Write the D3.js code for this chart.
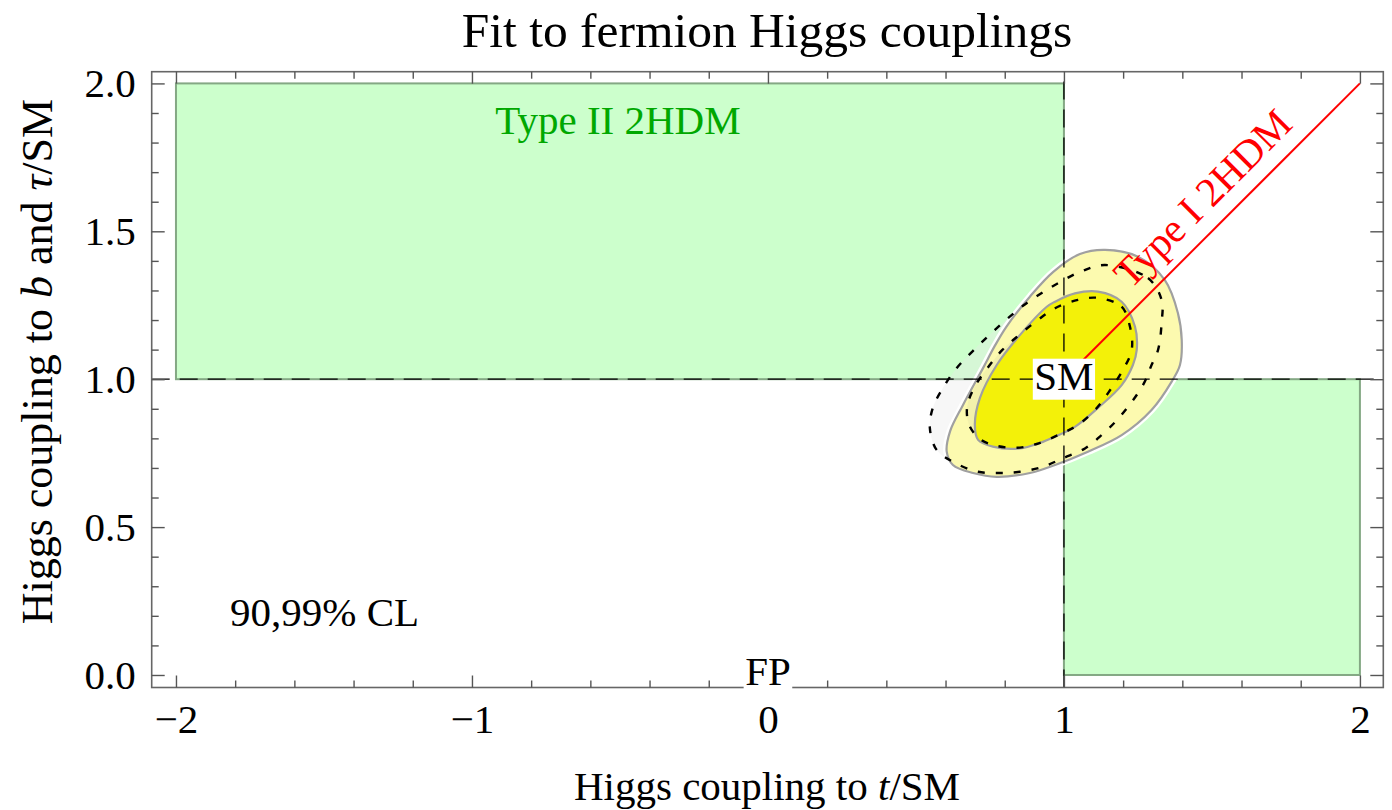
<!DOCTYPE html>
<html>
<head>
<meta charset="utf-8">
<script src="https://cdn.jsdelivr.net/npm/d3@7"></script>
<style>
  html, body { margin: 0; padding: 0; background: #fff; }
  svg text { font-family: "Liberation Serif", "Times New Roman", serif; }
</style>
</head>
<body>
<svg id="chart" width="1392" height="810"></svg>
<script>
// ---- data ----
const xDomain = [-2.082, 2.079];
const yDomain = [-0.0423, 2.0396];

const xMajorTicks = [-2, -1, 0, 1, 2];
const xTickLabels = ["\u22122", "\u22121", "0", "1", "2"];
const xMinorTicks = [-1.8, -1.6, -1.4, -1.2, -0.8, -0.6, -0.4, -0.2, 0.2, 0.4, 0.6, 0.8, 1.2, 1.4, 1.6, 1.8];
const yMajorTicks = [0, 0.5, 1, 1.5, 2];
const yTickLabels = ["0.0", "0.5", "1.0", "1.5", "2.0"];
const yMinorTicks = [0.1, 0.2, 0.3, 0.4, 0.6, 0.7, 0.8, 0.9, 1.1, 1.2, 1.3, 1.4, 1.6, 1.7, 1.8, 1.9];

// Type II 2HDM allowed regions: [x0, x1, y0, y1]
const typeIIRegions = [[-2, 1, 1, 2], [1, 2, 0, 1]];

// Type I 2HDM line (t and b/tau couplings equal)
const typeILine = [[1, 1], [2, 2]];

// reference lines through the SM point
const refX = 1;
const refY = 1;

// fit contours (99% and 90% CL), solid = current fit, dashed = alternative fit
const cl99Solid = [
  [1.139, 1.437], [1.250, 1.414], [1.341, 1.335], [1.385, 1.224], [1.398, 1.133],
  [1.392, 1.048], [1.364, 0.992], [1.296, 0.896], [1.195, 0.811], [1.081, 0.755],
  [0.970, 0.710], [0.885, 0.683], [0.773, 0.670], [0.693, 0.683], [0.625, 0.710],
  [0.604, 0.755], [0.615, 0.823], [0.659, 0.913], [0.728, 1.040], [0.765, 1.110],
  [0.806, 1.178], [0.885, 1.279], [0.964, 1.363], [1.054, 1.423]
];
const cl90Solid = [
  [1.115, 1.296], [1.195, 1.262], [1.240, 1.178], [1.246, 1.099], [1.233, 1.048],
  [1.195, 0.980], [1.115, 0.903], [1.037, 0.839], [0.970, 0.806], [0.920, 0.785],
  [0.851, 0.766], [0.760, 0.772], [0.710, 0.795], [0.699, 0.845], [0.716, 0.936],
  [0.773, 1.048], [0.851, 1.149], [0.942, 1.245], [0.970, 1.262], [1.037, 1.290]
];
const cl99Dashed = [
  [1.139, 1.386], [1.284, 1.342], [1.330, 1.268], [1.330, 1.190], [1.318, 1.099],
  [1.296, 1.048], [1.267, 0.980], [1.189, 0.873], [1.127, 0.811], [1.071, 0.766],
  [0.997, 0.733], [0.929, 0.704], [0.851, 0.687], [0.784, 0.683], [0.710, 0.687],
  [0.632, 0.717], [0.570, 0.761], [0.547, 0.835], [0.557, 0.903], [0.591, 0.970],
  [0.638, 1.038], [0.693, 1.096], [0.749, 1.150], [0.804, 1.200], [0.864, 1.250],
  [0.929, 1.294], [0.995, 1.333], [1.062, 1.366]
];
const cl90Dashed = [
  [1.115, 1.275], [1.195, 1.245], [1.223, 1.178], [1.229, 1.099], [1.199, 1.031],
  [1.149, 0.953], [1.105, 0.896], [1.047, 0.845], [0.980, 0.811], [0.908, 0.781],
  [0.840, 0.768], [0.767, 0.776], [0.716, 0.798], [0.680, 0.845], [0.673, 0.907],
  [0.699, 0.975], [0.745, 1.042], [0.792, 1.099], [0.848, 1.149], [0.908, 1.197],
  [0.970, 1.240], [1.047, 1.268]
];

// ---- layout ----
const svg = d3.select("#chart");
const plot = { left: 151.7, right: 1383.3, top: 71.7, bottom: 687.5 };

const x = d3.scaleLinear().domain(xDomain).range([plot.left, plot.right]);
const y = d3.scaleLinear().domain(yDomain).range([plot.bottom, plot.top]);

const fontSize = 41;

svg.append("defs").append("clipPath").attr("id", "plot-clip")
  .append("rect")
  .attr("x", plot.left).attr("y", plot.top)
  .attr("width", plot.right - plot.left).attr("height", plot.bottom - plot.top);

const g = svg.append("g").attr("clip-path", "url(#plot-clip)");

// Type II 2HDM regions
g.selectAll("rect.typeII").data(typeIIRegions).enter().append("rect")
  .attr("class", "typeII")
  .attr("x", d => x(d[0]))
  .attr("y", d => y(d[3]))
  .attr("width", d => x(d[1]) - x(d[0]))
  .attr("height", d => y(d[2]) - y(d[3]))
  .attr("fill", "#ccffcc")
  .attr("stroke", "#84a884")
  .attr("stroke-width", 2);

const contour = d3.line()
  .x(d => x(d[0])).y(d => y(d[1]))
  .curve(d3.curveCatmullRomClosed.alpha(0.5));

// faint fill of the alternative 99% region
g.append("path").attr("d", contour(cl99Dashed))
  .attr("fill", "#e8e8e8").attr("fill-opacity", 0.35).attr("stroke", "none");

// 99% CL region with white halo
g.append("path").attr("d", contour(cl99Solid))
  .attr("fill", "none").attr("stroke", "#ffffff").attr("stroke-width", 7);
g.append("path").attr("d", contour(cl99Solid))
  .attr("fill", "#fcfaaf").attr("stroke", "none");

// alternative 90% region, faint shading
g.append("path").attr("d", contour(cl90Dashed))
  .attr("fill", "#d8d8a0").attr("fill-opacity", 0.25).attr("stroke", "none");

// 90% CL region
g.append("path").attr("d", contour(cl90Solid))
  .attr("fill", "#f2f000").attr("fill-opacity", 0.95)
  .attr("stroke", "#a0a0a0").attr("stroke-width", 2.2);

g.append("path").attr("d", contour(cl99Solid))
  .attr("fill", "none").attr("stroke", "#a0a0a0").attr("stroke-width", 2.2);

// dashed contours
[cl99Dashed, cl90Dashed].forEach(c => {
  g.append("path").attr("d", contour(c))
    .attr("fill", "none").attr("stroke", "#000")
    .attr("stroke-width", 2.4).attr("stroke-dasharray", "7,11");
});

// reference lines through the SM point
g.append("line")
  .attr("x1", x(refX)).attr("x2", x(refX))
  .attr("y1", y(yDomain[0])).attr("y2", y(yDomain[1]))
  .attr("stroke", "#000").attr("stroke-width", 1.3).attr("stroke-dasharray", "18,10");
g.append("line")
  .attr("x1", x(xDomain[0])).attr("x2", x(xDomain[1]))
  .attr("y1", y(refY)).attr("y2", y(refY))
  .attr("stroke", "#000").attr("stroke-width", 1.3).attr("stroke-dasharray", "18,10");

// Type I 2HDM line
g.append("line")
  .attr("x1", x(typeILine[0][0])).attr("y1", y(typeILine[0][1]))
  .attr("x2", x(typeILine[1][0])).attr("y2", y(typeILine[1][1]))
  .attr("stroke", "#ff0000").attr("stroke-width", 2);

// ---- frame and ticks ----
svg.append("rect")
  .attr("x", plot.left).attr("y", plot.top)
  .attr("width", plot.right - plot.left).attr("height", plot.bottom - plot.top)
  .attr("fill", "none").attr("stroke", "#666").attr("stroke-width", 1.6);

function styleAxis(sel) {
  sel.select(".domain").remove();
  sel.selectAll(".tick line").attr("stroke", "#555").attr("stroke-width", 1.4);
  sel.selectAll(".tick text")
    .attr("fill", "#000")
    .style("font-size", fontSize + "px")
    .style("font-family", '"Liberation Serif", "Times New Roman", serif');
}

// bottom
svg.append("g").attr("transform", `translate(0,${plot.bottom})`)
  .call(d3.axisBottom(x).tickValues(xMinorTicks).tickSize(-7).tickFormat(""))
  .call(styleAxis);
svg.append("g").attr("transform", `translate(0,${plot.bottom})`)
  .call(d3.axisBottom(x).tickValues(xMajorTicks).tickSize(-12).tickPadding(16)
    .tickFormat((d, i) => xTickLabels[i]))
  .call(styleAxis);
// top
svg.append("g").attr("transform", `translate(0,${plot.top})`)
  .call(d3.axisTop(x).tickValues(xMinorTicks).tickSize(-7).tickFormat(""))
  .call(styleAxis);
svg.append("g").attr("transform", `translate(0,${plot.top})`)
  .call(d3.axisTop(x).tickValues(xMajorTicks).tickSize(-12).tickFormat(""))
  .call(styleAxis);
// left
svg.append("g").attr("transform", `translate(${plot.left},0)`)
  .call(d3.axisLeft(y).tickValues(yMinorTicks).tickSize(-7).tickFormat(""))
  .call(styleAxis);
svg.append("g").attr("transform", `translate(${plot.left},0)`)
  .call(d3.axisLeft(y).tickValues(yMajorTicks).tickSize(-13).tickPadding(16)
    .tickFormat((d, i) => yTickLabels[i]))
  .call(styleAxis);
// right
svg.append("g").attr("transform", `translate(${plot.right},0)`)
  .call(d3.axisRight(y).tickValues(yMinorTicks).tickSize(-7).tickFormat(""))
  .call(styleAxis);
svg.append("g").attr("transform", `translate(${plot.right},0)`)
  .call(d3.axisRight(y).tickValues(yMajorTicks).tickSize(-13).tickFormat(""))
  .call(styleAxis);

// ---- labels ----
function boxedLabel(text, px, py) {
  const grp = svg.append("g");
  const t = grp.append("text")
    .attr("x", px).attr("y", py + 10.5)
    .attr("text-anchor", "middle")
    .style("font-size", fontSize + "px")
    .attr("fill", "#000")
    .text(text);
  const bb = t.node().getBBox();
  grp.insert("rect", "text")
    .attr("x", px - bb.width / 2 - 1.5).attr("y", py - 20.5)
    .attr("width", bb.width + 3).attr("height", 41)
    .attr("fill", "#fff");
}
boxedLabel("SM", x(1), y(1));
boxedLabel("FP", x(0), y(0));

svg.append("text")
  .attr("x", (x(-2) + x(1)) / 2 - 2).attr("y", y(1.828))
  .attr("text-anchor", "middle")
  .style("font-size", fontSize + "px")
  .attr("fill", "#00a800")
  .text("Type II 2HDM");

// label along the Type I line
{
  const t = 1.54, off = 16;
  const px = x(t) - off / Math.SQRT2, py = y(t) - off / Math.SQRT2;
  svg.append("text")
    .attr("transform", `translate(${px},${py}) rotate(-45)`)
    .attr("text-anchor", "middle")
    .style("font-size", fontSize + "px")
    .attr("fill", "#ff0000")
    .text("Type I 2HDM");
}

svg.append("text")
  .attr("x", 230).attr("y", y(0.165))
  .style("font-size", fontSize + "px")
  .attr("fill", "#000")
  .text("90,99% CL");

// title
svg.append("text")
  .attr("x", 767).attr("y", 47)
  .attr("text-anchor", "middle")
  .style("font-size", "49.5px")
  .attr("fill", "#000")
  .text("Fit to fermion Higgs couplings");

// axis titles
const xTitle = svg.append("text")
  .attr("x", 767).attr("y", 800)
  .attr("text-anchor", "middle")
  .style("font-size", fontSize + "px")
  .attr("fill", "#000");
xTitle.append("tspan").text("Higgs coupling to ");
xTitle.append("tspan").style("font-style", "italic").text("t");
xTitle.append("tspan").text("/SM");

const yTitle = svg.append("text")
  .attr("transform", `translate(52,${(plot.top + plot.bottom) / 2 - 18}) rotate(-90)`)
  .attr("text-anchor", "middle")
  .style("font-size", "44px")
  .attr("fill", "#000");
yTitle.append("tspan").text("Higgs coupling to ");
yTitle.append("tspan").style("font-style", "italic").text("b");
yTitle.append("tspan").text(" and ");
yTitle.append("tspan").style("font-style", "italic").text("\u03c4");
yTitle.append("tspan").text("/SM");
</script>
</body>
</html>
